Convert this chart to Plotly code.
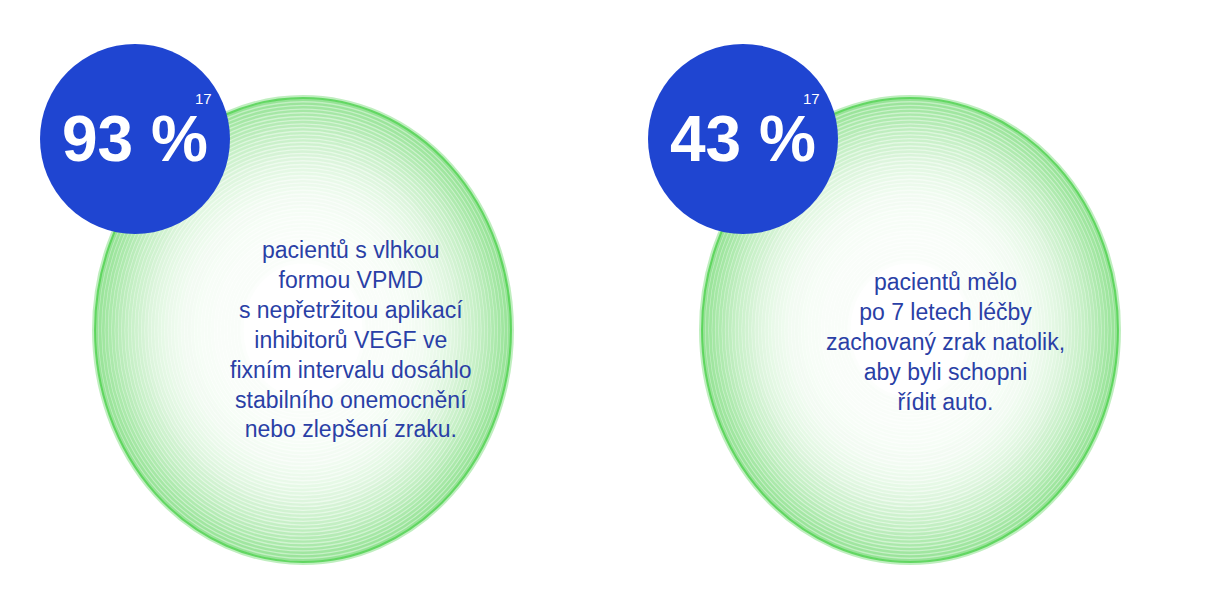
import plotly.graph_objects as go

# stat values
stats = ["93 %", "43 %"]
refs = ["17", "17"]
texts = [
    "pacientů s vlhkou<br>formou VPMD<br>s nepřetržitou aplikací<br>inhibitorů VEGF ve<br>fixním intervalu dosáhlo<br>stabilního onemocnění<br>nebo zlepšení zraku.",
    "pacientů mělo<br>po 7 letech léčby<br>zachovaný zrak natolik,<br>aby byli schopni<br>řídit auto.",
]
green_centers = [(295, 322), (902, 322)]
blue_centers = [(127, 131), (735, 131)]
text_centers = [(343, 331), (937, 334)]

RX_GREEN, RY_GREEN = 208, 232
R_BLUE = 95
BLUE = "#1f45d1"
TEXT = "#2a3fa6"

fig = go.Figure()
shapes = []
for cx, cy in green_centers:
    # fake the speckled radial fade with rings getting denser toward the edge
    n = 45
    for i in range(n):
        t = i / (n - 1)
        k = 0.3 + 0.7 * t
        rx, ry = RX_GREEN * k, RY_GREEN * k
        a = 0.015 + 0.3 * t ** 3
        shapes.append(dict(type="circle", xref="x", yref="y",
                           x0=cx - rx, x1=cx + rx, y0=cy - ry, y1=cy + ry,
                           line=dict(color=f"rgba(50,200,50,{a:.3f})", width=6),
                           fillcolor="rgba(0,0,0,0)"))
    shapes.append(dict(type="circle", xref="x", yref="y",
                       x0=cx - RX_GREEN, x1=cx + RX_GREEN, y0=cy - RY_GREEN, y1=cy + RY_GREEN,
                       line=dict(color="rgba(60,205,60,0.7)", width=2)))
for cx, cy in blue_centers:
    shapes.append(dict(type="circle", xref="x", yref="y",
                       x0=cx - R_BLUE, x1=cx + R_BLUE, y0=cy - R_BLUE, y1=cy + R_BLUE,
                       line=dict(width=0), fillcolor=BLUE))

annotations = []
for (bx, by), s, ref in zip(blue_centers, stats, refs):
    annotations.append(dict(x=bx, y=by, text=f"<b>{s}</b>", showarrow=False,
                            font=dict(family="Liberation Sans Narrow, Liberation Sans, Arial",
                                      size=64, color="white")))
    annotations.append(dict(x=bx + 68, y=by - 41, text=ref, showarrow=False,
                            font=dict(family="Liberation Sans, Arial", size=15, color="white")))
for (tx, ty), t in zip(text_centers, texts):
    annotations.append(dict(x=tx, y=ty, text=t, showarrow=False, align="center",
                            font=dict(family="Liberation Sans, Arial", size=23, color=TEXT)))

fig.add_trace(go.Scatter(x=[0], y=[0], mode="markers", marker=dict(opacity=0), hoverinfo="skip"))
fig.update_layout(
    width=1216, height=604, margin=dict(l=0, r=0, t=0, b=0),
    paper_bgcolor="white", plot_bgcolor="white", showlegend=False,
    shapes=shapes, annotations=annotations,
    xaxis=dict(range=[0, 1216], visible=False, fixedrange=True),
    yaxis=dict(range=[604, 0], visible=False, fixedrange=True),
)
fig.write_html("out.html", config={"displayModeBar": False})
